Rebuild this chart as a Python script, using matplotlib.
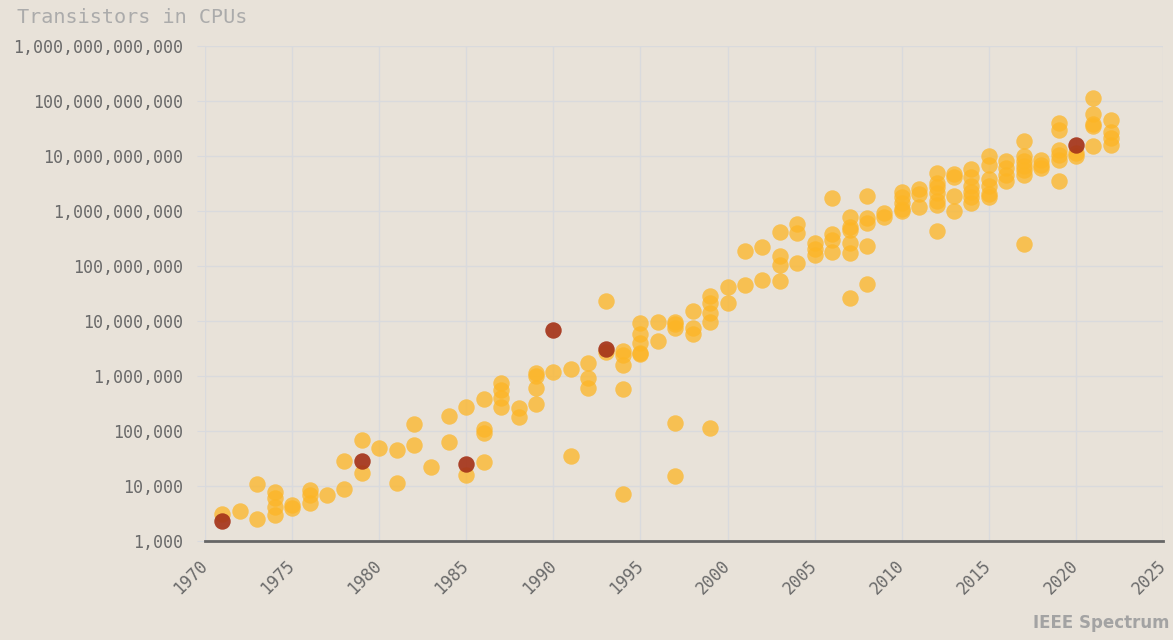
import matplotlib
matplotlib.use('Agg')
import matplotlib.pyplot as plt
from matplotlib.ticker import FuncFormatter, FixedLocator

BG = '#e8e2d9'
YELLOW = '#fdb525'
RED = '#a5341a'
GRID = '#d9dadd'

# yellow points: (year, transistor count)
years = [1971, 1972, 1973, 1973,
         1974, 1974, 1974, 1974, 1975, 1975, 1976, 1976, 1976, 1977,
         1978, 1978, 1979, 1979, 1980, 1981, 1981, 1982, 1982, 1983,
         1984, 1984, 1985, 1985, 1986, 1986, 1986, 1986,
         1987, 1987, 1987, 1987, 1988, 1988, 1989, 1989, 1989, 1989,
         1990, 1991, 1991, 1992, 1992, 1992, 1993, 1993,
         1994, 1994, 1994, 1994, 1994, 1995, 1995, 1995, 1995, 1995,
         1996, 1996, 1997, 1997, 1997, 1997, 1997, 1998, 1998, 1998,
         1999, 1999, 1999, 1999, 1999, 2000, 2000, 2001, 2001, 2002, 2002,
         2003, 2003, 2003, 2003, 2004, 2004, 2004, 2005, 2005, 2005,
         2006, 2006, 2006, 2006, 2007, 2007, 2007, 2007, 2007, 2007,
         2008, 2008, 2008, 2008, 2008, 2009, 2009,
         2010, 2010, 2010, 2010, 2010, 2011, 2011, 2011,
         2012, 2012, 2012, 2012, 2012, 2012, 2012, 2013, 2013, 2013, 2013,
         2014, 2014, 2014, 2014, 2014, 2014, 2015, 2015, 2015, 2015, 2015, 2015,
         2016, 2016, 2016, 2016, 2017, 2017, 2017, 2017, 2017, 2017, 2017,
         2018, 2018, 2018, 2019, 2019, 2019, 2019, 2019, 2019,
         2020, 2020, 2021, 2021, 2021, 2021, 2021, 2022, 2022, 2022, 2022]
counts = [3100, 3500, 11000, 2500,
          7900, 6000, 4100, 3000, 4500, 4000, 8500, 6800, 5000, 6800,
          29000, 8800, 68500, 17400, 50000, 45000, 11500, 134000, 55000, 22000,
          190000, 63000, 275000, 16000, 380000, 110000, 93000, 27000,
          755000, 556000, 393000, 277000, 258000, 182000, 1150000, 1000000, 597000, 310000,
          1200000, 1340000, 35000, 1700000, 915000, 600000, 23000000, 2760000,
          2800000, 2400000, 1580000, 580000, 7100, 9300000, 5800000, 3960000, 2640000, 2500000,
          9700000, 4300000, 9700000, 8700000, 7400000, 141000, 15000, 15000000, 7600000, 5800000,
          28000000, 21000000, 13800000, 9500000, 112000, 42000000, 21000000, 190e6, 45e6, 220e6, 55e6,
          410e6, 150e6, 105e6, 54e6, 590e6, 400e6, 112e6, 260e6, 200e6, 160e6,
          1.7e9, 380e6, 300e6, 180e6, 790e6, 520e6, 450e6, 260e6, 170e6, 26e6,
          1.9e9, 740e6, 600e6, 230e6, 47e6, 910e6, 770e6,
          2.2e9, 1.8e9, 1.37e9, 1.1e9, 980e6, 2.5e9, 2.0e9, 1.17e9,
          5.0e9, 3.2e9, 2.75e9, 2.15e9, 1.5e9, 1.3e9, 440e6, 4.8e9, 4.2e9, 1.85e9, 1.0e9,
          5.7e9, 4.2e9, 2.8e9, 2.2e9, 1.8e9, 1.4e9, 10e9, 7.0e9, 3.9e9, 2.9e9, 2.0e9, 1.8e9,
          8.0e9, 6.0e9, 4.6e9, 3.5e9, 19e9, 10e9, 8.0e9, 6.6e9, 5.6e9, 4.6e9, 250e6,
          8.6e9, 7.0e9, 6.1e9, 40e9, 30e9, 13e9, 10.5e9, 8.5e9, 3.5e9,
          11.3e9, 10e9, 114e9, 58e9, 38e9, 35e9, 15e9, 45e9, 27e9, 21e9, 16e9]

# highlighted points
red_years = [1971, 1979, 1985, 1990, 1993, 2020]
red_counts = [2300, 29000, 25000, 6.9e6, 3.1e6, 16e9]

x_ticks = list(range(1970, 2026, 5))
y_ticks = [10 ** k for k in range(3, 13)]

fig = plt.figure(figsize=(11.73, 6.4), dpi=100)
fig.patch.set_facecolor(BG)
ax = fig.add_axes([0.1748, 0.1547, 0.8167, 0.7734])
ax.set_facecolor(BG)

ax.scatter(years, counts, s=140, color=YELLOW, alpha=0.75, linewidths=0, zorder=3)
ax.scatter(red_years, red_counts, s=140, color=RED, alpha=0.92, linewidths=0, zorder=4)

ax.set_yscale('log')
ax.set_xlim(1970, 2025)
ax.set_ylim(1e3, 1e12)
ax.xaxis.set_major_locator(FixedLocator(x_ticks))
ax.yaxis.set_major_locator(FixedLocator(y_ticks))
ax.yaxis.set_minor_locator(FixedLocator([]))
ax.yaxis.set_major_formatter(FuncFormatter(lambda v, p: f'{int(round(v)):,}'))
ax.grid(True, color=GRID, linewidth=1, zorder=0)
ax.set_axisbelow(True)

for side in ['top', 'right', 'left']:
    ax.spines[side].set_visible(False)
ax.spines['bottom'].set_color('#666666')
ax.spines['bottom'].set_linewidth(2)

ax.tick_params(axis='y', length=6, color=GRID, pad=10, labelsize=12, labelcolor='#6a6a6a')
ax.tick_params(axis='x', length=0, pad=16, labelsize=12, labelcolor='#6a6a6a')
for lab in ax.get_yticklabels() + ax.get_xticklabels():
    lab.set_family('DejaVu Sans Mono')
for lab in ax.get_xticklabels():
    lab.set_rotation(45)
    lab.set_ha('right')
    lab.set_va('center')
    lab.set_rotation_mode('anchor')

fig.text(0.0145, 0.972, 'Transistors in CPUs', family='DejaVu Sans Mono', fontsize=14.5,
         color='#ababab', va='center', ha='left')
fig.text(0.997, 0.027, 'IEEE Spectrum', family='DejaVu Sans', fontweight='heavy', fontsize=12,
         color='#a3a3a3', va='center', ha='right')

fig.savefig('out.png', dpi=100, facecolor=BG)
